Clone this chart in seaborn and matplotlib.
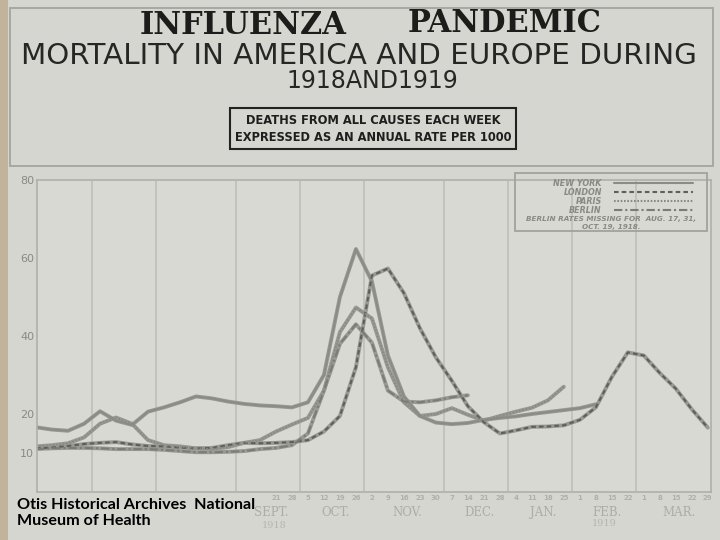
import numpy as np
import pandas as pd
import matplotlib
matplotlib.use("Agg")
import matplotlib.pyplot as plt
import matplotlib.patches as mpatches
import matplotlib.transforms as mtransforms
import seaborn as sns

# week ending (Saturday) day numbers, June 1918 - March 1919
week_days = [8, 15, 22, 29,
             6, 13, 20, 27,
             3, 10, 17, 24, 31,
             7, 14, 21, 28,
             5, 12, 19, 26,
             2, 9, 16, 23, 30,
             7, 14, 21, 28,
             4, 11, 18, 25,
             1, 8, 15, 22,
             1, 8, 15, 22, 29]
months = ["JUNE", "JULY", "AUG.", "SEPT.", "OCT.", "NOV.", "DEC.", "JAN.", "FEB.", "MAR."]
weeks_in_month = [4, 4, 5, 4, 4, 5, 4, 4, 4, 5]

# deaths from all causes, annual rate per 1000
new_york = [16.6, 16.0, 15.7, 17.5, 20.7, 18.3, 17.2, 20.6, 21.7, 23.0, 24.5, 24.0,
            23.2, 22.6, 22.2, 22.0, 21.7, 23.0, 30.0, 50.0, 62.3, 54.0, 35.0, 24.5,
            19.5, 17.8, 17.4, 17.7, 18.5, 19.0, 19.4, 20.0, 20.5, 21.0, 21.5, 22.5]
london = [11.2, 11.4, 11.8, 12.3, 12.6, 12.8, 12.2, 11.8, 11.7, 11.4, 11.2, 11.3,
          12.0, 12.6, 12.5, 12.6, 12.8, 13.3, 15.5, 19.5, 32.0, 55.5, 57.3, 51.0,
          42.0, 34.5, 28.5, 22.0, 17.9, 15.0, 15.8, 16.7, 16.8, 17.1, 18.5, 21.7,
          29.5, 35.8, 35.0, 30.5, 26.5, 21.2, 16.5]
paris = [11.7, 12.0, 12.5, 14.0, 17.5, 19.1, 17.5, 13.3, 12.0, 11.7, 11.2, 11.0,
         11.5, 12.6, 13.3, 15.5, 17.3, 19.0, 26.0, 41.0, 47.3, 44.5, 32.0, 23.0,
         19.5, 20.0, 21.5, 19.8, 18.3, 19.5, 20.6, 21.6, 23.5, 27.0]
berlin = [11.0, 11.2, 11.3, 11.3, 11.2, 11.0, 11.0, 11.0, 10.8, 10.5, 10.2, 10.2,
          10.3, 10.5, 11.0, 11.3, 12.0, 15.0, 26.0, 38.0, 43.0, 38.3, 26.0, 23.2,
          23.0, 23.5, 24.3, 24.8]

cities = ["NEW YORK", "LONDON", "PARIS", "BERLIN"]
series = [new_york, london, paris, berlin]

week_x = np.arange(len(week_days)) - 3.5
rows = []
for city, vals in zip(cities, series):
    for i, v in enumerate(vals):
        rows.append((city, week_x[i], v))
df = pd.DataFrame(rows, columns=["city", "week", "rate"])

bounds = np.concatenate([[-4], -4 + np.cumsum(weeks_in_month)])
first_shown = 15   # week labels left of this sit under the archive credit

PAPER = "#d6d6d1"
LINE = "#999994"
GRID = "#bdbdb8"
LABEL = "#8a8a85"

sns.set_theme(style="white")
plt.rcParams["font.family"] = ["DejaVu Sans"]

fig = plt.figure(figsize=(7.2, 5.4), dpi=100, facecolor=PAPER)
W, H = 720, 540


def fx(px):
    return px / W


def fy(py):
    return 1 - py / H


ax = fig.add_axes([fx(37), fy(492), fx(711) - fx(37), fy(180) - fy(492)])
ax.set_facecolor("#d9d9d4")

# base grey strokes
sns.lineplot(data=df, x="week", y="rate", units="city", estimator=None,
             color=LINE, lw=2.8, legend=False, ax=ax)
# pen patterns on top
sns.lineplot(data=df, x="week", y="rate", hue="city", style="city", ax=ax,
             palette={"NEW YORK": "#8c8c87", "LONDON": "#5e5e5a",
                      "PARIS": "#8a8a85", "BERLIN": "#7c7c77"},
             dashes={"NEW YORK": "", "LONDON": (2.2, 1.5),
                     "PARIS": (0.8, 0.8), "BERLIN": (4, 1.4, 1, 1.4)},
             lw=1.5, estimator=None)

ax.set_xlim(-3.44, 38.7)
ax.set_ylim(0, 80)
ax.set_xticks(week_x[first_shown:])
ax.set_xticklabels([str(d) for d in week_days[first_shown:]], fontsize=5,
                   color="#b0b0ab", fontweight="bold")
ax.set_xticks(bounds[1:-1], minor=True)
ax.set_yticks([10, 20, 40, 60, 80])
ax.set_yticklabels(["10", "20", "40", "60", "80"], fontsize=8, color=LABEL)
ax.set_yticks([20, 40, 60], minor=True)
ax.tick_params(axis="both", which="both", length=0, pad=2)
ax.grid(False, which="major")
ax.grid(True, which="minor", color=GRID, lw=1.1)
ax.set_xlabel("")
ax.set_ylabel("")
for s in ax.spines.values():
    s.set_color("#b0b0ab")
    s.set_linewidth(1.2)

# month names and years under the week numbers
tr = mtransforms.blended_transform_factory(ax.transData, ax.transAxes)
for m, a, b in list(zip(months, bounds[:-1], bounds[1:]))[3:]:
    ax.text((a + b) / 2 + 0.2, -0.067, m, transform=tr, ha="center", va="center",
            fontsize=8.5, color="#adada8", family="DejaVu Serif")
ax.text((bounds[3] + bounds[4]) / 2 + 0.4, -0.107, "1918", transform=tr,
        ha="center", va="center", fontsize=7, color="#b6b6b1", family="DejaVu Serif")
ax.text((bounds[8] + bounds[9]) / 2, -0.1, "1919", transform=tr, ha="center",
        va="center", fontsize=7, color="#b6b6b1", family="DejaVu Serif")

# legend block, top right
h, l = ax.get_legend_handles_labels()
leg = ax.legend(h, l, markerfirst=False, loc="upper right", frameon=False,
                bbox_to_anchor=(fx(697), fy(175)), bbox_transform=fig.transFigure,
                handlelength=9.8, handletextpad=1.5, labelspacing=0.0,
                borderpad=0.0,
                prop={"size": 5.8, "style": "italic", "weight": "bold"})
for t in leg.get_texts():
    t.set_color(LABEL)
fig.patches.append(mpatches.Rectangle((fx(515), fy(231)), fx(707) - fx(515),
                                      fy(173) - fy(231), transform=fig.transFigure,
                                      fill=False, ec="#a2a29d", lw=1.3))
fig.text(fx(611), fy(219), "BERLIN RATES MISSING FOR  AUG. 17, 31,", ha="center",
         va="center", fontsize=5.2, color=LABEL, style="italic", weight="bold")
fig.text(fx(611), fy(227), "OCT. 19, 1918.", ha="center", va="center",
         fontsize=5.2, color=LABEL, style="italic", weight="bold")

# title panel
fig.patches.append(mpatches.Rectangle((fx(10), fy(166)), fx(713) - fx(10),
                                      fy(8) - fy(166), transform=fig.transFigure,
                                      fill=False, ec="#a8a8a3", lw=1.4))
fig.patches.append(mpatches.Rectangle((0, 0), fx(8), 1, transform=fig.transFigure,
                                      color="#c2b49c", lw=0))
fig.text(fx(243), fy(26), "INFLUENZA", ha="center", va="center", fontsize=22,
         family="DejaVu Serif", weight="bold", color="#1c1c1a")
fig.text(fx(505), fy(24), "PANDEMIC", ha="center", va="center", fontsize=22,
         family="DejaVu Serif", weight="bold", color="#1c1c1a")
fig.text(fx(359), fy(56), "MORTALITY IN AMERICA AND EUROPE DURING", ha="center",
         va="center", fontsize=21.2, color="#262624")
fig.text(fx(372), fy(81), "1918AND1919", ha="center", va="center", fontsize=17,
         color="#262624")
fig.patches.append(mpatches.Rectangle((fx(230), fy(149)), fx(516) - fx(230),
                                      fy(108) - fy(149), transform=fig.transFigure,
                                      fill=False, ec="#222220", lw=1.5))
fig.text(fx(373), fy(120), "DEATHS FROM ALL CAUSES EACH WEEK", ha="center",
         va="center", fontsize=8.3, weight="bold", color="#1e1e1c")
fig.text(fx(373), fy(137), "EXPRESSED AS AN ANNUAL RATE PER 1000", ha="center",
         va="center", fontsize=8.3, weight="bold", color="#1e1e1c")

# archive credit
fig.text(fx(17), fy(513), "Otis Historical Archives  National\nMuseum of Health",
         ha="left", va="center", fontsize=11.6, weight="bold", family="Lato",
         color="black", linespacing=1.25)

fig.savefig("out.png", dpi=100, facecolor=PAPER)
